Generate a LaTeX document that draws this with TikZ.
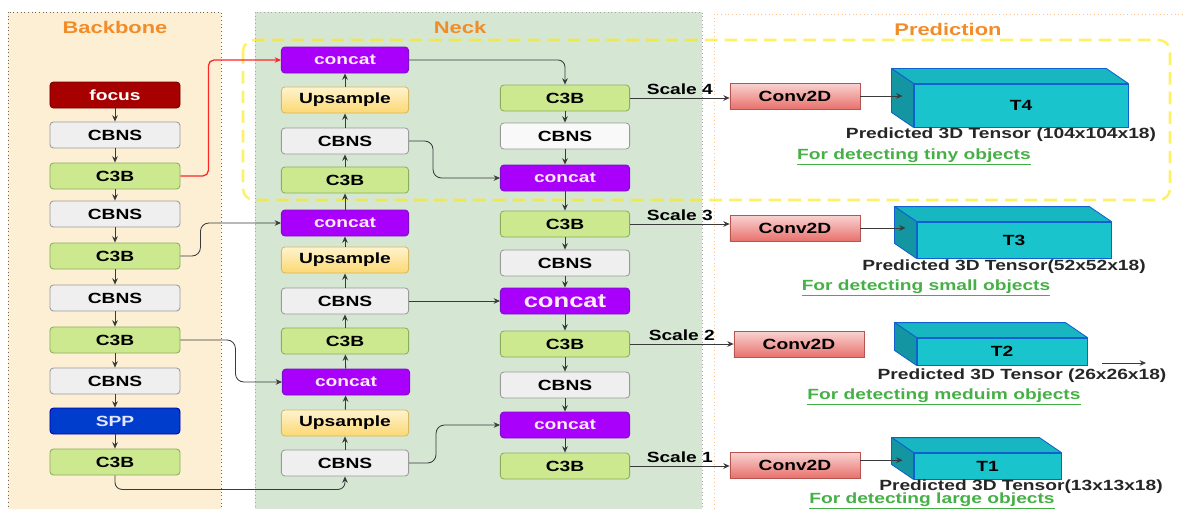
\documentclass[tikz,border=0pt]{standalone}
\usepackage{fontspec}
\setmainfont{Liberation Sans}[FakeStretch=1.3]
\usepackage{tikz}
\usetikzlibrary{calc,shapes,arrows.meta}
\usepackage{xcolor}

\definecolor{bbfill}{HTML}{FCEFD3}
\definecolor{nkfill}{HTML}{D5E7D3}
\definecolor{ttl}{HTML}{F28C28}
\definecolor{grn}{HTML}{45B045}
\definecolor{c3fill}{HTML}{CDE98F}
\definecolor{c3draw}{HTML}{8AAE5C}
\definecolor{cbfill}{HTML}{EFEFEF}
\definecolor{cbdraw}{HTML}{9A9A9A}
\definecolor{catfill}{HTML}{A800FA}
\definecolor{catdraw}{HTML}{7A10C8}
\definecolor{upstop}{HTML}{FFF3CF}
\definecolor{upsbot}{HTML}{FCD873}
\definecolor{upsdraw}{HTML}{D8B860}
\definecolor{convtop}{HTML}{F9D4D2}
\definecolor{convbot}{HTML}{E8716C}
\definecolor{convdraw}{HTML}{B85450}
\definecolor{tfront}{HTML}{19C4CD}
\definecolor{tside}{HTML}{1496A2}
\definecolor{ttop}{HTML}{17B6C0}
\definecolor{tdraw}{HTML}{1060D0}
\definecolor{lnk}{HTML}{3A3A3A}

\begin{document}
\begin{tikzpicture}[x=0.025cm,y=-0.025cm]
		\tikzstyle{every node}=[font=\fontsize{10.5}{12}\selectfont\bfseries]
		\tikzstyle{blk}=[draw,rounded corners=2.5pt,minimum height=0.65cm,line width=0.6pt,inner sep=0pt]
		\tikzstyle{cbns}=[blk,fill=cbfill,draw=cbdraw]
		\tikzstyle{cthree}=[blk,fill=c3fill,draw=c3draw]
		\tikzstyle{cat}=[blk,fill=catfill,draw=catdraw,text=white!92!magenta]
		\tikzstyle{ups}=[blk,top color=upstop,bottom color=upsbot,draw=upsdraw]
		\tikzstyle{convbox}=[draw=convdraw,top color=convtop,bottom color=convbot,minimum width=3.25cm,minimum height=0.65cm,line width=0.5pt]
		\tikzstyle{tensor}=[draw=tdraw,fill=tfront,line width=0.6pt,inner sep=0pt,font=\fontsize{10.5}{12}\selectfont\bfseries]
		\tikzstyle{arr}=[draw=lnk,line width=0.6pt,-{Stealth[length=4.5pt,width=4pt]}]
		\tikzstyle{ttlnode}=[text=ttl,font=\fontsize{12}{14}\selectfont\bfseries]
		\tikzstyle{tlabel}=[text=black!85]
		\tikzstyle{glabel}=[text=grn]

		\useasboundingbox (0,0) rectangle (1184,508);

		% panels
		\filldraw[fill=bbfill,draw=black!60,dotted,line width=0.6pt] (8,12) rectangle (221,515);
		\filldraw[fill=nkfill,draw=black!35,dotted,line width=0.6pt] (255,12) rectangle (702,515);
		\draw[draw=ttl!50,dotted,line width=0.6pt] (714,14) rectangle (1195,515);
		\node[ttlnode] (tbb) at (115,27) {Backbone};
		\node[ttlnode] (tnk) at (460,27) {Neck};
		\node[ttlnode] (tpr) at (948,29) {Prediction};
		\draw[yellow!90!orange,line width=1.8pt,dash pattern=on 9pt off 5pt,rounded corners=8pt,opacity=0.6] (243,40) rectangle (1170,200);

		% backbone
		\tikzstyle{bw}=[minimum width=3.25cm]
		\node[blk,bw,fill=red!65!black,draw=red!45!black,text=white] (bfocus) at (115,95) {focus};
		\node[cbns,bw] (bcbns1) at (115,135) {CBNS};
		\node[cthree,bw] (bc3b1) at (115,176) {C3B};
		\node[cbns,bw] (bcbns2) at (115,214) {CBNS};
		\node[cthree,bw] (bc3b2) at (115,256) {C3B};
		\node[cbns,bw] (bcbns3) at (115,298) {CBNS};
		\node[cthree,bw] (bc3b3) at (115,340) {C3B};
		\node[cbns,bw] (bcbns4) at (115,381) {CBNS};
		\node[blk,bw,fill=blue!70!cyan!80!black,draw=blue!70!black,text=white!90!blue] (bspp) at (115,421) {SPP};
		\node[cthree,bw] (bc3b4) at (115,462) {C3B};
		\foreach \a/\b in {bfocus/bcbns1,bcbns1/bc3b1,bc3b1/bcbns2,bcbns2/bc3b2,bc3b2/bcbns3,bcbns3/bc3b3,bc3b3/bcbns4,bcbns4/bspp,bspp/bc3b4}
			\draw[arr] (\a) -- (\b);

		% neck, left column (upwards)
		\tikzstyle{lw}=[minimum width=3.18cm]
		\node[cbns,lw] (lcbns1) at (345,463) {CBNS};
		\node[ups,lw] (lups1) at (345,423) {Upsample};
		\node[cat,lw] (lcat1) at (346,382) {concat};
		\node[cthree,lw] (lc3b1) at (345,341) {C3B};
		\node[cbns,lw] (lcbns2) at (345,301) {CBNS};
		\node[ups,lw] (lups2) at (345,260) {Upsample};
		\node[cat,lw] (lcat2) at (345,223) {concat};
		\node[cthree,lw] (lc3b2) at (345,180) {C3B};
		\node[cbns,lw] (lcbns3) at (345,141) {CBNS};
		\node[ups,lw] (lups3) at (345,100) {Upsample};
		\node[cat,lw] (lcat3) at (345,60) {concat};
		\foreach \a/\b in {lcbns1/lups1,lups1/lcat1,lcat1/lc3b1,lc3b1/lcbns2,lcbns2/lups2,lups2/lcat2,lcat2/lc3b2,lc3b2/lcbns3,lcbns3/lups3,lups3/lcat3}
			\draw[arr] (\a) -- (\b);

		% neck, right column (downwards)
		\tikzstyle{rw}=[minimum width=3.23cm]
		\node[cthree,rw] (rc3b4) at (565,98) {C3B};
		\node[cbns,rw,fill=white!60!cbfill] (rcbns3) at (565,136) {CBNS};
		\node[cat,rw] (rcat3) at (565,178) {concat};
		\node[cthree,rw] (rc3b3) at (565,224) {C3B};
		\node[cbns,rw] (rcbns2) at (565,263) {CBNS};
		\node[cat,rw,font=\fontsize{14}{16}\selectfont\bfseries] (rcat2) at (565,301) {concat};
		\node[cthree,rw] (rc3b2) at (565,344) {C3B};
		\node[cbns,rw] (rcbns1) at (565,385) {CBNS};
		\node[cat,rw] (rcat1) at (565,425) {concat};
		\node[cthree,rw] (rc3b1) at (565,466) {C3B};
		\foreach \a/\b in {rc3b4/rcbns3,rcbns3/rcat3,rcat3/rc3b3,rc3b3/rcbns2,rcbns2/rcat2,rcat2/rc3b2,rc3b2/rcbns1,rcbns1/rcat1,rcat1/rc3b1}
			\draw[arr] (\a) -- (\b);

		% backbone -> neck
		\draw[arr,draw=red!85!white,line width=0.9pt,rounded corners=4pt] (bc3b1.east) -- ++(28,0) |- (lcat3.west);
		\draw[arr,rounded corners=6pt] (bc3b2.east) -- ++(20,0) |- (lcat2.west);
		\draw[arr,rounded corners=6pt] (bc3b3.east) -- ++(55,0) |- (lcat1.west);
		\draw[arr,rounded corners=5pt] (bc3b4.south) -- ++(0,14) -| (lcbns1.south);

		% across the neck
		\draw[arr,rounded corners=5pt] (lcat3.east) -| (rc3b4.north);
		\draw[arr,rounded corners=6pt] (lcbns3.east) -- ++(24,0) |- (rcat3.west);
		\draw[arr] (lcbns2.east) -- (rcat2.west);
		\draw[arr,rounded corners=6pt] (lcbns1.east) -- ++(27,0) |- (rcat1.west);

		% prediction
		\node[convbox] (conv4) at (795,96) {Conv2D};
		\node[convbox] (conv3) at (795,228) {Conv2D};
		\node[convbox] (conv2) at (799,344) {Conv2D};
		\node[convbox] (conv1) at (795,465) {Conv2D};

		\draw[arr] (rc3b4.east) -- (rc3b4.east -| conv4.west) node[midway,above=-1pt] {Scale 4};
		\draw[arr] (rc3b3.east) -- (rc3b3.east -| conv3.west) node[midway,above=-1pt] {Scale 3};
		\draw[arr] (rc3b2.east) -- (rc3b2.east -| conv2.west) node[midway,above=-1pt] {Scale 2};
		\draw[arr] (rc3b1.east) -- (rc3b1.east -| conv1.west) node[midway,above=-1pt] {Scale 1};

		\foreach \n/\x/\y/\w/\h in {4/1021/105.5/5.35/1.075,3/1014/240/4.85/0.9,2/1002/351.5/4.25/0.675,1/987.5/466/3.675/0.65}{
			\node[tensor,minimum width=\w cm,minimum height=\h cm] (t\n) at (\x,\y) {T\n};
			\filldraw[draw=tdraw,fill=ttop,line width=0.6pt,line join=round] (t\n.north west) -- ++(-22,-15) -- ($(t\n.north east)+(-22,-15)$) -- (t\n.north east) -- cycle;
			\filldraw[draw=tdraw,fill=tside,line width=0.6pt,line join=round] (t\n.north west) -- ++(-22,-15) -- ($(t\n.south west)+(-22,-15)$) -- (t\n.south west) -- cycle;
			\coordinate (lf\n) at ($(t\n.west)+(-11,-7.5)$);
		}
		\draw[arr] (conv4.east) -- (conv4.east -| lf4);
		\draw[arr] (conv3.east) -- (conv3.east -| lf3);
		\draw[arr] ([yshift=0.12cm]conv1.east) -- ([yshift=0.12cm]conv1.east -| lf1);
		\coordinate (s2a) at (1102,363);
		\coordinate (s2b) at (1146,363);
		\draw[arr] (s2a) -- (s2b);

		\node[tlabel] (p4) at (1001,135) {Predicted 3D Tensor (104x104x18)};
		\node[tlabel] (p3) at (1004,267) {Predicted 3D Tensor(52x52x18)};
		\node[tlabel] (p2) at (1022,376) {Predicted 3D Tensor (26x26x18)};
		\node[tlabel] (p1) at (1021,487) {Predicted 3D Tensor(13x13x18)};
		\node[glabel] (g4) at (914,157) {\underline{For detecting tiny objects}};
		\node[glabel] (g3) at (926,288) {\underline{For detecting small objects}};
		\node[glabel] (g2) at (944,397) {\underline{For detecting meduim objects}};
		\node[glabel] (g1) at (932,501) {\underline{For detecting large objects}};
	\end{tikzpicture}
\end{document}
